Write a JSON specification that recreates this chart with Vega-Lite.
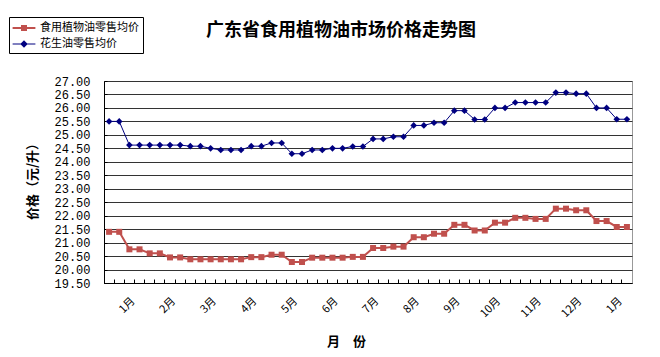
{
  "$schema": "https://vega.github.io/schema/vega-lite/v6.json",
  "width": 528,
  "height": 202,
  "autosize": {"type": "none"},
  "padding": {"left": 104, "top": 81, "right": 28, "bottom": 74},
  "background": "white",
  "config": {
    "view": {"stroke": "#999999", "strokeWidth": 1},
    "font": "Noto Sans CJK SC",
    "legend": {"strokeColor": "#000000", "fillColor": "#ffffff", "padding": 4}
  },
  "title": {
    "text": "广东省食用植物油市场价格走势图",
    "font": "Noto Sans CJK SC",
    "fontSize": 18,
    "fontWeight": "bold",
    "color": "#000000",
    "anchor": "middle",
    "frame": "group",
    "dx": -27,
    "offset": -23
  },
  "data": {
    "values": [
      {"week": 1, "series": "食用植物油零售均价", "price": 21.4},
      {"week": 2, "series": "食用植物油零售均价", "price": 21.4},
      {"week": 3, "series": "食用植物油零售均价", "price": 20.75},
      {"week": 4, "series": "食用植物油零售均价", "price": 20.75},
      {"week": 5, "series": "食用植物油零售均价", "price": 20.6},
      {"week": 6, "series": "食用植物油零售均价", "price": 20.6},
      {"week": 7, "series": "食用植物油零售均价", "price": 20.45},
      {"week": 8, "series": "食用植物油零售均价", "price": 20.45},
      {"week": 9, "series": "食用植物油零售均价", "price": 20.38},
      {"week": 10, "series": "食用植物油零售均价", "price": 20.38},
      {"week": 11, "series": "食用植物油零售均价", "price": 20.38},
      {"week": 12, "series": "食用植物油零售均价", "price": 20.38},
      {"week": 13, "series": "食用植物油零售均价", "price": 20.38},
      {"week": 14, "series": "食用植物油零售均价", "price": 20.38},
      {"week": 15, "series": "食用植物油零售均价", "price": 20.46},
      {"week": 16, "series": "食用植物油零售均价", "price": 20.46},
      {"week": 17, "series": "食用植物油零售均价", "price": 20.55},
      {"week": 18, "series": "食用植物油零售均价", "price": 20.55},
      {"week": 19, "series": "食用植物油零售均价", "price": 20.28},
      {"week": 20, "series": "食用植物油零售均价", "price": 20.28},
      {"week": 21, "series": "食用植物油零售均价", "price": 20.44},
      {"week": 22, "series": "食用植物油零售均价", "price": 20.44},
      {"week": 23, "series": "食用植物油零售均价", "price": 20.44},
      {"week": 24, "series": "食用植物油零售均价", "price": 20.44},
      {"week": 25, "series": "食用植物油零售均价", "price": 20.47},
      {"week": 26, "series": "食用植物油零售均价", "price": 20.47},
      {"week": 27, "series": "食用植物油零售均价", "price": 20.8},
      {"week": 28, "series": "食用植物油零售均价", "price": 20.8},
      {"week": 29, "series": "食用植物油零售均价", "price": 20.85},
      {"week": 30, "series": "食用植物油零售均价", "price": 20.85},
      {"week": 31, "series": "食用植物油零售均价", "price": 21.2},
      {"week": 32, "series": "食用植物油零售均价", "price": 21.2},
      {"week": 33, "series": "食用植物油零售均价", "price": 21.33},
      {"week": 34, "series": "食用植物油零售均价", "price": 21.33},
      {"week": 35, "series": "食用植物油零售均价", "price": 21.66},
      {"week": 36, "series": "食用植物油零售均价", "price": 21.66},
      {"week": 37, "series": "食用植物油零售均价", "price": 21.45},
      {"week": 38, "series": "食用植物油零售均价", "price": 21.45},
      {"week": 39, "series": "食用植物油零售均价", "price": 21.74},
      {"week": 40, "series": "食用植物油零售均价", "price": 21.74},
      {"week": 41, "series": "食用植物油零售均价", "price": 21.92},
      {"week": 42, "series": "食用植物油零售均价", "price": 21.92},
      {"week": 43, "series": "食用植物油零售均价", "price": 21.88},
      {"week": 44, "series": "食用植物油零售均价", "price": 21.88},
      {"week": 45, "series": "食用植物油零售均价", "price": 22.26},
      {"week": 46, "series": "食用植物油零售均价", "price": 22.26},
      {"week": 47, "series": "食用植物油零售均价", "price": 22.2},
      {"week": 48, "series": "食用植物油零售均价", "price": 22.2},
      {"week": 49, "series": "食用植物油零售均价", "price": 21.8},
      {"week": 50, "series": "食用植物油零售均价", "price": 21.8},
      {"week": 51, "series": "食用植物油零售均价", "price": 21.58},
      {"week": 52, "series": "食用植物油零售均价", "price": 21.58},
      {"week": 1, "series": "花生油零售均价", "price": 25.5},
      {"week": 2, "series": "花生油零售均价", "price": 25.5},
      {"week": 3, "series": "花生油零售均价", "price": 24.62},
      {"week": 4, "series": "花生油零售均价", "price": 24.62},
      {"week": 5, "series": "花生油零售均价", "price": 24.62},
      {"week": 6, "series": "花生油零售均价", "price": 24.62},
      {"week": 7, "series": "花生油零售均价", "price": 24.62},
      {"week": 8, "series": "花生油零售均价", "price": 24.62},
      {"week": 9, "series": "花生油零售均价", "price": 24.58},
      {"week": 10, "series": "花生油零售均价", "price": 24.58},
      {"week": 11, "series": "花生油零售均价", "price": 24.5},
      {"week": 12, "series": "花生油零售均价", "price": 24.44},
      {"week": 13, "series": "花生油零售均价", "price": 24.44},
      {"week": 14, "series": "花生油零售均价", "price": 24.44},
      {"week": 15, "series": "花生油零售均价", "price": 24.58},
      {"week": 16, "series": "花生油零售均价", "price": 24.58},
      {"week": 17, "series": "花生油零售均价", "price": 24.7},
      {"week": 18, "series": "花生油零售均价", "price": 24.7},
      {"week": 19, "series": "花生油零售均价", "price": 24.3},
      {"week": 20, "series": "花生油零售均价", "price": 24.3},
      {"week": 21, "series": "花生油零售均价", "price": 24.44},
      {"week": 22, "series": "花生油零售均价", "price": 24.44},
      {"week": 23, "series": "花生油零售均价", "price": 24.5},
      {"week": 24, "series": "花生油零售均价", "price": 24.5},
      {"week": 25, "series": "花生油零售均价", "price": 24.57},
      {"week": 26, "series": "花生油零售均价", "price": 24.57},
      {"week": 27, "series": "花生油零售均价", "price": 24.85},
      {"week": 28, "series": "花生油零售均价", "price": 24.85},
      {"week": 29, "series": "花生油零售均价", "price": 24.93},
      {"week": 30, "series": "花生油零售均价", "price": 24.93},
      {"week": 31, "series": "花生油零售均价", "price": 25.35},
      {"week": 32, "series": "花生油零售均价", "price": 25.35},
      {"week": 33, "series": "花生油零售均价", "price": 25.45},
      {"week": 34, "series": "花生油零售均价", "price": 25.45},
      {"week": 35, "series": "花生油零售均价", "price": 25.9},
      {"week": 36, "series": "花生油零售均价", "price": 25.9},
      {"week": 37, "series": "花生油零售均价", "price": 25.57},
      {"week": 38, "series": "花生油零售均价", "price": 25.57},
      {"week": 39, "series": "花生油零售均价", "price": 26.0},
      {"week": 40, "series": "花生油零售均价", "price": 26.0},
      {"week": 41, "series": "花生油零售均价", "price": 26.2},
      {"week": 42, "series": "花生油零售均价", "price": 26.2},
      {"week": 43, "series": "花生油零售均价", "price": 26.2},
      {"week": 44, "series": "花生油零售均价", "price": 26.2},
      {"week": 45, "series": "花生油零售均价", "price": 26.57},
      {"week": 46, "series": "花生油零售均价", "price": 26.57},
      {"week": 47, "series": "花生油零售均价", "price": 26.53},
      {"week": 48, "series": "花生油零售均价", "price": 26.53},
      {"week": 49, "series": "花生油零售均价", "price": 26.0},
      {"week": 50, "series": "花生油零售均价", "price": 26.0},
      {"week": 51, "series": "花生油零售均价", "price": 25.58},
      {"week": 52, "series": "花生油零售均价", "price": 25.58}
    ]
  },
  "encoding": {
    "x": {
      "field": "week",
      "type": "ordinal",
      "scale": {"type": "band", "paddingInner": 0, "paddingOuter": 0},
      "axis": {
        "title": "月　份",
        "titleFont": "Noto Sans CJK SC",
        "titleFontSize": 13,
        "titleFontWeight": "bold",
        "titleColor": "#000000",
        "titleX": 242,
        "titleY": 58,
        "titleAlign": "center",
        "titleBaseline": "middle",
        "bandPosition": 0,
        "labelOffset": 4,
        "labelAngle": -45,
        "labelAlign": "right",
        "labelBaseline": "middle",
        "labelFont": "Noto Sans CJK SC",
        "labelFontSize": 11,
        "labelColor": "#000000",
        "labelPadding": 20,
        "labelOverlap": false,
        "labelExpr": "datum.value % 4 == 3 ? (datum.value > 48 ? '1' : '' + (floor(datum.value / 4) + 1)) + '月' : ''",
        "tickSize": -4,
        "tickColor": "#000000",
        "domainColor": "#000000",
        "grid": false
      }
    },
    "y": {
      "field": "price",
      "type": "quantitative",
      "scale": {"domain": [19.5, 27], "nice": false, "zero": false},
      "axis": {
        "title": "价格（元/升）",
        "titleFont": "Noto Sans CJK SC",
        "titleFontSize": 13,
        "titleFontWeight": "bold",
        "titleColor": "#000000",
        "titleAngle": -90,
        "titleX": -72,
        "titleY": 97,
        "titleAlign": "center",
        "titleBaseline": "middle",
        "values": [19.5, 20, 20.5, 21, 21.5, 22, 22.5, 23, 23.5, 24, 24.5, 25, 25.5, 26, 26.5, 27],
        "format": ".2f",
        "labelFont": "Liberation Mono",
        "labelFontSize": 12,
        "labelColor": "#000000",
        "labelPadding": 17,
        "tickSize": -3,
        "tickColor": "#000000",
        "domainColor": "#000000",
        "grid": true,
        "gridColor": "#333333",
        "gridWidth": 1
      }
    }
  },
  "layer": [
    {
      "transform": [{"filter": "datum.series == '食用植物油零售均价'"}],
      "mark": {"type": "line", "color": "#C0504D", "strokeWidth": 2},
      "encoding": {}
    },
    {
      "transform": [{"filter": "datum.series == '花生油零售均价'"}],
      "mark": {"type": "line", "color": "#000080", "strokeWidth": 1},
      "encoding": {}
    },
    {
      "transform": [{"filter": "datum.series == '食用植物油零售均价'"}],
      "mark": {"type": "point", "filled": true, "opacity": 1, "shape": "square", "size": 36, "color": "#C0504D"},
      "encoding": {}
    },
    {
      "transform": [{"filter": "datum.series == '花生油零售均价'"}],
      "mark": {"type": "point", "filled": true, "opacity": 1, "shape": "diamond", "size": 44, "color": "#000080"},
      "encoding": {}
    },
    {
      "transform": [{"filter": "false"}],
      "mark": {"type": "point", "filled": true, "opacity": 1},
      "encoding": {
        "color": {
          "field": "series",
          "type": "nominal",
          "scale": {"domain": ["食用植物油零售均价", "花生油零售均价"], "range": ["#C0504D", "#000080"]},
          "legend": {
            "orient": "none",
            "legendX": -95,
            "legendY": -64,
            "title": null,
            "strokeColor": "#000000",
            "fillColor": "#ffffff",
            "padding": 4,
            "symbolSize": 144,
            "symbolOffset": 4,
            "labelOffset": 9,
            "rowPadding": 4,
            "labelFont": "Noto Sans CJK SC",
            "labelFontSize": 11,
            "labelColor": "#000000",
            "labelLimit": 300
          }
        },
        "shape": {
          "field": "series",
          "type": "nominal",
          "scale": {
            "domain": ["食用植物油零售均价", "花生油零售均价"],
            "range": [
              "M-1.9,-0.17H1.9V0.17H-1.9ZM-0.5,-0.5H0.5V0.5H-0.5Z",
              "M-1.9,-0.1H1.9V0.1H-1.9ZM0,-0.62L0.62,0L0,0.62L-0.62,0Z"
            ]
          },
          "legend": {
            "orient": "none",
            "legendX": -95,
            "legendY": -64,
            "title": null,
            "strokeColor": "#000000",
            "fillColor": "#ffffff",
            "padding": 4,
            "symbolSize": 144,
            "symbolOffset": 4,
            "labelOffset": 9,
            "rowPadding": 4,
            "labelFont": "Noto Sans CJK SC",
            "labelFontSize": 11,
            "labelColor": "#000000",
            "labelLimit": 300
          }
        }
      }
    }
  ]
}
